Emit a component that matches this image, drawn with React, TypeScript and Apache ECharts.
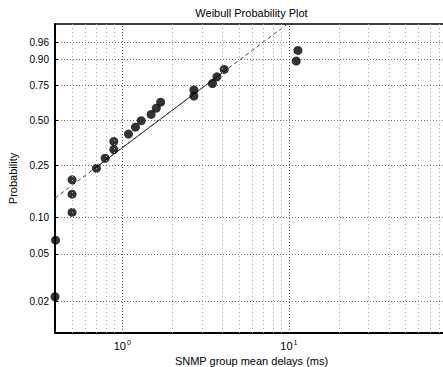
import React, { useEffect, useRef } from 'react';
import * as echarts from 'echarts';

// Data: SNMP group mean delays (ms) and their Weibull plotting probabilities
const delays = [0.395, 0.398, 0.5, 0.5, 0.5, 0.7, 0.79, 0.89, 0.89, 1.09, 1.2, 1.3, 1.49, 1.6, 1.7, 2.69, 2.69, 3.48, 3.7, 4.09, 11.06, 11.32, 90];
const probabilities = [0.022, 0.065, 0.109, 0.152, 0.196, 0.239, 0.283, 0.326, 0.37, 0.413, 0.457, 0.5, 0.543, 0.587, 0.63, 0.674, 0.717, 0.761, 0.804, 0.848, 0.891, 0.935, 0.978];

// Reference line (Weibull fit): scale and shape
const fitScale = 2.33;
const fitShape = 1.059;
const solidRange = [0.7, 4.3];

// Axis limits and tick labels
const xLimits = [0.395, 90];
const probLimits = [0.0109, 0.9897];
const probTicks = [0.02, 0.05, 0.1, 0.25, 0.5, 0.75, 0.9, 0.96];
const xMinorGrid = [0.5, 0.6, 0.7, 0.8, 0.9, 2, 3, 4, 5, 6, 7, 8, 9, 20, 30, 40, 50, 60, 70, 80];
const xMajorGrid = [1, 10];

const titleText = 'Weibull Probability Plot';
const xName = 'SNMP group mean delays (ms)';
const yName = 'Probability';

const wb = (p: number) => Math.log(-Math.log(1 - p));
const invWb = (v: number) => 1 - Math.exp(-Math.exp(v));
const fit = (x: number) => fitShape * (Math.log(x) - Math.log(fitScale));

export default function App() {
  const ref = useRef<HTMLDivElement>(null);
  useEffect(() => {
    if (!ref.current) return;
    const chart = echarts.init(ref.current, null, { renderer: 'svg' });
    const yTickValues = probTicks.map(wb);
    const font = 'Liberation Sans, Arial, Helvetica, sans-serif';
    const gridMarks = [
      ...xMinorGrid.map((v) => ({ xAxis: v, lineStyle: { color: '#a8a8a8', type: [1, 3] as any, width: 1 } })),
      ...xMajorGrid.map((v) => ({ xAxis: v, lineStyle: { color: '#555', type: [1, 2] as any, width: 1 } })),
    ];
    const option: any = {
      animation: false,
      textStyle: { fontFamily: font },
      grid: { left: 55, top: 24, width: 393, height: 309, outerBoundsMode: 'none', containLabel: false },
      xAxis: [
        {
          type: 'log',
          logBase: 10,
          min: xLimits[0],
          max: xLimits[1],
          position: 'bottom',
          name: xName,
          nameLocation: 'middle',
          nameGap: 19,
          nameTextStyle: { fontSize: 11, color: '#000', fontFamily: font },
          axisLine: { show: true, onZero: false, lineStyle: { color: '#000', width: 2 } },
          axisTick: { show: false },
          splitLine: { show: false },
          axisLabel: {
            showMinLabel: false,
            showMaxLabel: false,
            margin: 6,
            formatter: (v: number) => {
              const l = Math.log10(v);
              const e = Math.round(l);
              if (Math.abs(l - e) > 1e-6) return '';
              return `{b|10}{s|${e}}`;
            },
            rich: {
              b: { fontSize: 11, color: '#000', fontFamily: font },
              s: { fontSize: 7, color: '#000', fontFamily: font, verticalAlign: 'top', padding: [0, 0, 6, 1] },
            },
          },
        },
        {
          type: 'log',
          logBase: 10,
          min: xLimits[0],
          max: xLimits[1],
          position: 'top',
          name: titleText,
          nameLocation: 'middle',
          nameGap: 6,
          nameTextStyle: { fontSize: 11, color: '#000', fontFamily: font },
          axisLine: { show: true, onZero: false, lineStyle: { color: '#000', width: 1.5 } },
          axisTick: { show: false },
          axisLabel: { show: false },
          splitLine: { show: false },
        },
      ],
      yAxis: {
        type: 'value',
        min: wb(probLimits[0]),
        max: wb(probLimits[1]),
        name: yName,
        nameLocation: 'middle',
        nameGap: 27,
        nameRotate: 90,
        nameTextStyle: { fontSize: 11, color: '#000', fontFamily: font },
        axisLine: { show: true, onZero: false, lineStyle: { color: '#000', width: 2 } },
        axisTick: { show: true, inside: true, length: 3, customValues: yTickValues, lineStyle: { color: '#000' } },
        axisLabel: {
          customValues: yTickValues,
          formatter: (v: number) => invWb(v).toFixed(2),
          fontSize: 10,
          color: '#000',
          margin: 6,
          fontFamily: font,
        },
        splitLine: { show: true, lineStyle: { color: '#707070', type: [1, 2], width: 1 } },
      },
      series: [
        {
          type: 'line',
          z: 1,
          silent: true,
          showSymbol: false,
          symbol: 'none',
          clip: true,
          data: [
            [xLimits[0], fit(xLimits[0])],
            [xLimits[1], fit(xLimits[1])],
          ],
          lineStyle: { color: '#444', width: 1, type: [4, 3] },
          markLine: {
            silent: true,
            symbol: 'none',
            label: { show: false },
            data: gridMarks,
          },
        },
        {
          type: 'line',
          z: 2,
          silent: true,
          showSymbol: false,
          symbol: 'none',
          data: [
            [solidRange[0], fit(solidRange[0])],
            [solidRange[1], fit(solidRange[1])],
          ],
          lineStyle: { color: '#333', width: 1, type: 'solid' },
        },
        {
          type: 'scatter',
          z: 3,
          clip: false,
          symbolSize: 9,
          itemStyle: { color: '#000' },
          data: delays.map((x, i) => [x, wb(probabilities[i])]),
        },
      ],
    };
    chart.setOption(option);
    return () => chart.dispose();
  }, []);
  return <div ref={ref} style={{ position: 'absolute', left: 0, top: 0, width: 443, height: 367 }} />;
}
